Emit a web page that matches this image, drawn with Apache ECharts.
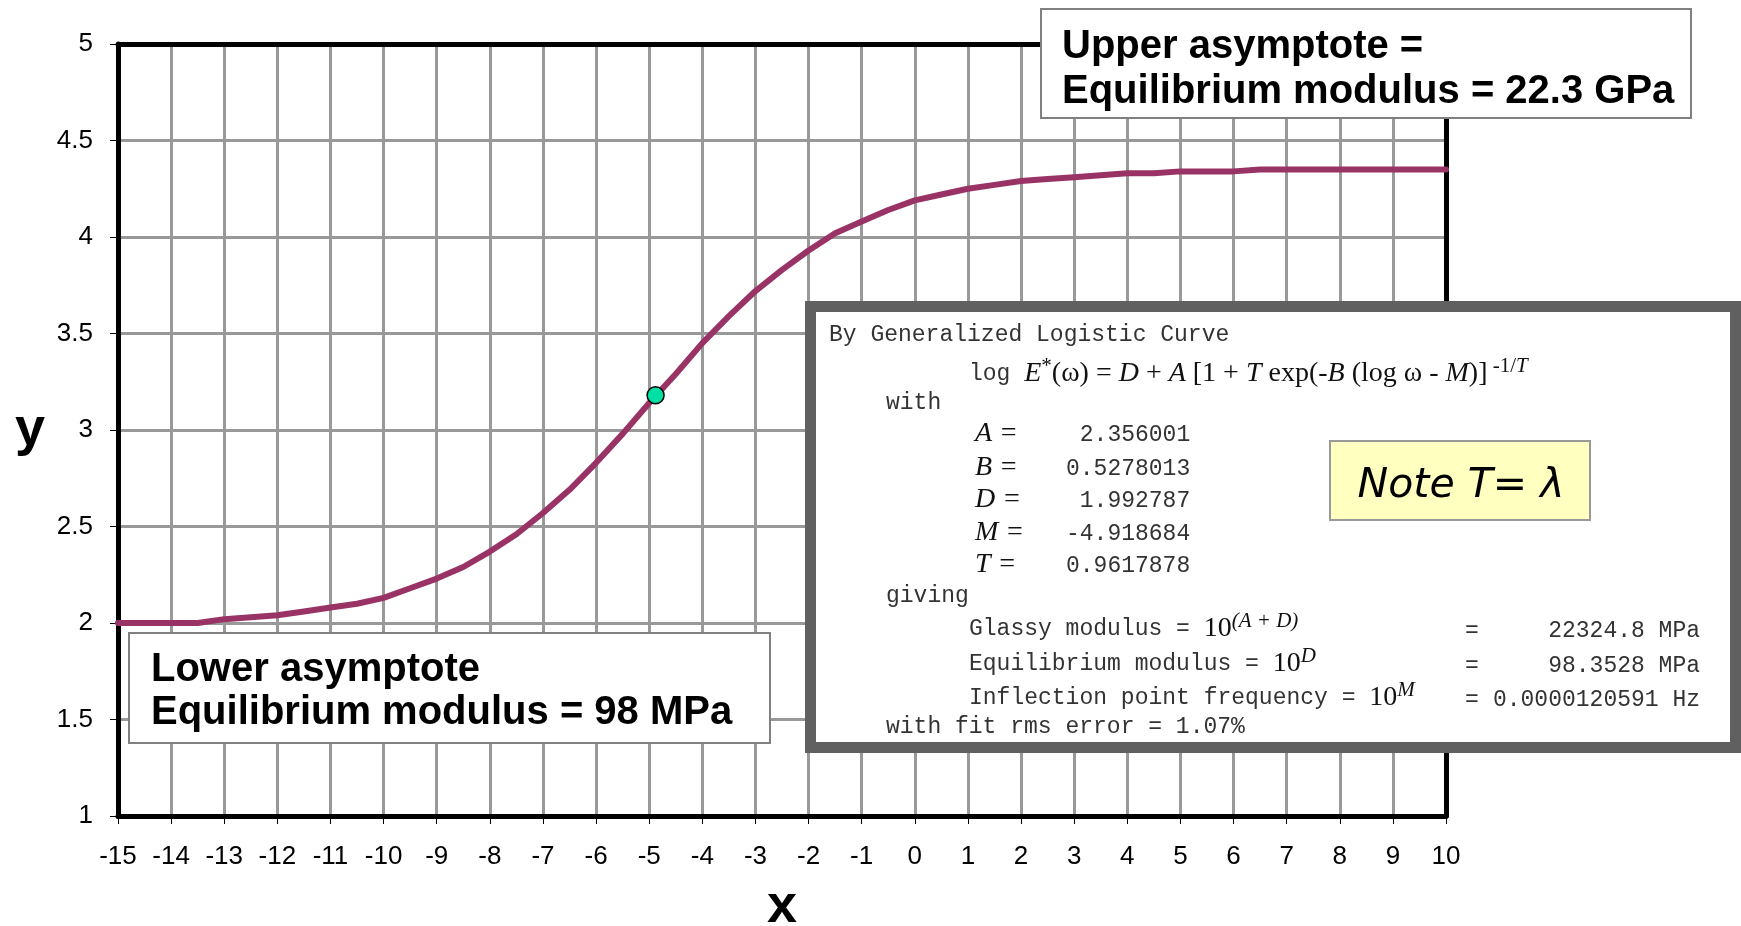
<!DOCTYPE html>
<html>
<head>
<meta charset="utf-8">
<script src="https://cdn.jsdelivr.net/npm/echarts@6/dist/echarts.min.js"></script>
<style>
  html, body { margin: 0; padding: 0; background: #ffffff; }
  #chart { width: 1741px; height: 926px; }
</style>
</head>
<body>
<div id="chart"></div>
<script>
// ---- Data ----
const xValues = [-15, -14.5, -14, -13.5, -13, -12.5, -12, -11.5, -11, -10.5,
  -10, -9.5, -9, -8.5, -8, -7.5, -7, -6.5, -6, -5.5,
  -5, -4.5, -4, -3.5, -3, -2.5, -2, -1.5, -1, -0.5,
  0, 0.5, 1, 1.5, 2, 2.5, 3, 3.5, 4, 4.5,
  5, 5.5, 6, 6.5, 7, 7.5, 8, 8.5, 9, 9.5, 10];
const yValues = [2.00, 2.00, 2.00, 2.00, 2.02, 2.03, 2.04, 2.06, 2.08, 2.10,
  2.13, 2.18, 2.23, 2.29, 2.37, 2.46, 2.57, 2.69, 2.83, 2.98,
  3.14, 3.29, 3.45, 3.59, 3.72, 3.83, 3.93, 4.02, 4.08, 4.14,
  4.19, 4.22, 4.25, 4.27, 4.29, 4.30, 4.31, 4.32, 4.33, 4.33,
  4.34, 4.34, 4.34, 4.35, 4.35, 4.35, 4.35, 4.35, 4.35, 4.35, 4.35];
const inflectionPoint = [-4.88, 3.18];
const xRange = [-15, 10];
const yRange = [1, 5];

const paramNames = ['A', 'B', 'D', 'M', 'T'];
const paramValues = [' 2.356001', '0.5278013', ' 1.992787', '-4.918684', '0.9617878'];
const resultLabels = ['Glassy modulus = ', 'Equilibrium modulus = ', 'Inflection point frequency = '];
const resultExponents = ['(A + D)', 'D', 'M'];
const resultValues = ['22324.8 MPa', '98.3528 MPa', '0.0000120591 Hz'];

// ---- Chart ----
const chart = echarts.init(document.getElementById('chart'), null, { renderer: 'canvas' });

const MONO = '"Liberation Mono", "Courier New", monospace';
const SERIF = '"Liberation Serif", "Times New Roman", serif';
const SANS = '"Liberation Sans", Arial, sans-serif';

function txt(x, y, text, font, extra) {
  return {
    type: 'text', x: x, y: y, z: 110, silent: true,
    style: Object.assign({
      text: text, font: font, fill: '#222',
      align: 'left', verticalAlign: 'middle',
      textAlign: 'left', textVerticalAlign: 'middle'
    }, extra || {})
  };
}

const richMath = {
  mono: { font: '23px ' + MONO, fill: '#333', lineHeight: 36 },
  rm: { font: '28px ' + SERIF, fill: '#111', lineHeight: 36 },
  it: { font: 'italic 28px ' + SERIF, fill: '#111', lineHeight: 36 },
  sup: { font: '21px ' + SERIF, fill: '#111', verticalAlign: 'top', lineHeight: 20 },
  supit: { font: 'italic 21px ' + SERIF, fill: '#111', verticalAlign: 'top', lineHeight: 20 }
};

const graphics = [];
// Upper asymptote box
graphics.push({ type: 'rect', z: 100, silent: true,
  shape: { x: 1041, y: 9, width: 650, height: 109 },
  style: { fill: '#ffffff', stroke: '#808080', lineWidth: 2 } });
graphics.push(txt(1062, 69.5, 'Upper asymptote =\nEquilibrium modulus = 22.3 GPa',
  'bold 40px ' + SANS, { fill: '#000', lineHeight: 44.5 }));
// Lower asymptote box
graphics.push({ type: 'rect', z: 100, silent: true,
  shape: { x: 129, y: 633, width: 641, height: 110 },
  style: { fill: '#ffffff', stroke: '#808080', lineWidth: 2 } });
graphics.push(txt(151, 691.5, 'Lower asymptote\nEquilibrium modulus = 98 MPa',
  'bold 40px ' + SANS, { fill: '#000', lineHeight: 43.5 }));
// Formula box
graphics.push({ type: 'rect', z: 100, silent: true,
  shape: { x: 810.5, y: 306.5, width: 925, height: 441 },
  style: { fill: '#ffffff', stroke: '#606060', lineWidth: 11 } });
graphics.push(txt(829, 335, 'By Generalized Logistic Curve', '23px ' + MONO, { fill: '#333' }));
graphics.push(txt(969, 374,
  '{mono|log }{it|E}{sup|*}{rm|(ω) = }{it|D}{rm| + }{it|A}{rm| [1 + }{it|T}{rm| exp(-}{it|B}{rm| (log ω - }{it|M}{rm|)]}{sup| -1/}{supit|T}',
  '23px ' + MONO, { rich: richMath }));
graphics.push(txt(886, 403, 'with', '23px ' + MONO, { fill: '#333' }));
const paramY = [434, 468, 500, 533, 565];
paramNames.forEach(function (n, i) {
  graphics.push(txt(975, paramY[i], n + ' =', 'italic 28px ' + SERIF, { fill: '#111' }));
  graphics.push(txt(1066, paramY[i] + 1, paramValues[i], '23px ' + MONO, { fill: '#333' }));
});
graphics.push(txt(886, 596, 'giving', '23px ' + MONO, { fill: '#333' }));
const resY = [629, 664, 698];
resultLabels.forEach(function (l, i) {
  graphics.push(txt(969, resY[i], '{mono|' + l + '}{rm|10}{supit|' + resultExponents[i] + '}',
    '23px ' + MONO, { rich: richMath }));
  graphics.push(txt(1465, resY[i] + 2, '=', '23px ' + MONO, { fill: '#333' }));
  graphics.push(txt(1700, resY[i] + 2, resultValues[i], '23px ' + MONO,
    { fill: '#333', align: 'right', textAlign: 'right' }));
});
graphics.push(txt(886, 727, 'with fit rms error = 1.07%', '23px ' + MONO, { fill: '#333' }));
// Note box
graphics.push({ type: 'rect', z: 105, silent: true,
  shape: { x: 1330, y: 441, width: 260, height: 79 },
  style: { fill: '#ffffc0', stroke: '#999999', lineWidth: 2 } });
graphics.push(txt(1461, 486, 'Note T= λ', 'italic 41px "DejaVu Sans", sans-serif',
  { fill: '#000', align: 'center', textAlign: 'center' }));

const frameAxis = {
  axisLine: { show: true, onZero: false, lineStyle: { color: '#000', width: 5 } },
  axisTick: { show: false }, axisLabel: { show: false }, splitLine: { show: false }, z: 4
};

const option = {
  backgroundColor: '#ffffff',
  animation: false,
  grid: {
    left: 118, right: 295, top: 44, bottom: 110,
    containLabel: false, outerBoundsMode: 'none'
  },
  xAxis: [{
    type: 'value', min: xRange[0], max: xRange[1], interval: 1, position: 'bottom',
    name: 'x', nameLocation: 'middle', nameGap: 64,
    nameTextStyle: { fontSize: 54, fontWeight: 'bold', color: '#000', fontFamily: SANS },
    axisLine: { show: true, onZero: false, lineStyle: { color: '#000', width: 5 } },
    axisTick: { show: true, length: 8, lineStyle: { color: '#000', width: 1 } },
    axisLabel: { fontSize: 26, color: '#000', margin: 28, fontFamily: SANS, showMinLabel: true, showMaxLabel: true },
    splitLine: { show: true, lineStyle: { color: '#999999', width: 3 } },
    z: 3
  }, Object.assign({
    type: 'value', min: xRange[0], max: xRange[1], interval: 1, position: 'top'
  }, frameAxis)],
  yAxis: [{
    type: 'value', min: yRange[0], max: yRange[1], interval: 0.5, position: 'left',
    name: 'y', nameLocation: 'middle', nameRotate: 0, nameGap: 73,
    nameTextStyle: { fontSize: 54, fontWeight: 'bold', color: '#000', fontFamily: SANS, padding: [11, 0, 0, 0] },
    axisLine: { show: true, onZero: false, lineStyle: { color: '#000', width: 5 } },
    axisTick: { show: true, length: 8, lineStyle: { color: '#000', width: 1 } },
    axisLabel: { fontSize: 26, color: '#000', margin: 25, fontFamily: SANS, showMinLabel: true, showMaxLabel: true },
    splitLine: { show: true, lineStyle: { color: '#999999', width: 3 } },
    z: 3
  }, Object.assign({
    type: 'value', min: yRange[0], max: yRange[1], interval: 0.5, position: 'right'
  }, frameAxis)],
  series: [
    {
      type: 'line',
      data: xValues.map(function (x, i) { return [x, yValues[i]]; }),
      showSymbol: false, smooth: false, clip: false,
      lineStyle: { color: '#993366', width: 6, cap: 'round', join: 'round' },
      z: 5
    },
    {
      type: 'scatter',
      data: [inflectionPoint],
      symbol: 'circle', symbolSize: 17,
      itemStyle: { color: '#00e0a4', borderColor: '#000', borderWidth: 1.5, opacity: 1 },
      z: 6
    }
  ],
  graphic: graphics
};
chart.setOption(option);
</script>
</body>
</html>
